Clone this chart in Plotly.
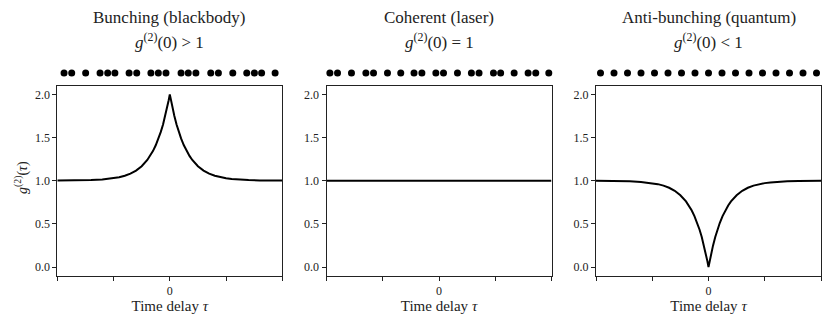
import plotly.graph_objects as go

# time delay axis and the three g2 curves
tau = [-5, -4.5, -4, -3.5, -3, -2.75, -2.5, -2.25, -2, -1.75, -1.5, -1.25, -1, -0.875, -0.75,
       -0.625, -0.5, -0.4, -0.3, -0.2, -0.1, -0.05, 0,
       0.05, 0.1, 0.2, 0.3, 0.4, 0.5, 0.625, 0.75, 0.875, 1, 1.25, 1.5, 1.75, 2, 2.25, 2.5,
       2.75, 3, 3.5, 4, 4.5, 5]
g2_bunching = [1.001, 1.002, 1.003, 1.007, 1.014, 1.020, 1.028, 1.040, 1.057, 1.082, 1.117,
               1.168, 1.240, 1.287, 1.343, 1.410, 1.490, 1.565, 1.651, 1.752, 1.867, 1.931, 2.0,
               1.931, 1.867, 1.752, 1.651, 1.565, 1.490, 1.410, 1.343, 1.287, 1.240, 1.168,
               1.117, 1.082, 1.057, 1.040, 1.028, 1.020, 1.014, 1.007, 1.003, 1.002, 1.001]
tau_flat = [-5, 5]
g2_coherent = [1.0, 1.0]
g2_antibunching = [0.999, 0.998, 0.997, 0.993, 0.986, 0.980, 0.972, 0.960, 0.943, 0.918, 0.883,
                   0.832, 0.760, 0.713, 0.657, 0.590, 0.510, 0.435, 0.349, 0.248, 0.133, 0.069,
                   0.0,
                   0.069, 0.133, 0.248, 0.349, 0.435, 0.510, 0.590, 0.657, 0.713, 0.760, 0.832,
                   0.883, 0.918, 0.943, 0.960, 0.972, 0.980, 0.986, 0.993, 0.997, 0.998, 0.999]

# photon arrival times shown above each panel
photons_bunching = [-4.70, -4.36, -3.74, -3.10, -2.76, -2.44, -1.81, -1.47, -0.84, -0.51, -0.17,
                    0.50, 0.82, 1.16, 1.82, 2.16, 2.80, 3.42, 3.76, 4.08, 4.68]
photons_coherent = [-4.85, -4.51, -3.89, -3.25, -2.91, -2.29, -1.70, -1.11, -0.76, -0.14, 0.20,
                    0.82, 1.44, 1.78, 2.42, 2.74, 3.34, 3.96, 4.30, 4.88]
photons_antibunching = [-4.8, -4.2, -3.6, -3.0, -2.4, -1.8, -1.2, -0.6, 0.0,
                        0.6, 1.2, 1.8, 2.4, 3.0, 3.6, 4.2, 4.8]

titles = ["Bunching (blackbody)", "Coherent (laser)", "Anti-bunching (quantum)"]
subtitles = ["<i>g</i><sup>(2)</sup>(0) &gt; 1", "<i>g</i><sup>(2)</sup>(0) = 1",
             "<i>g</i><sup>(2)</sup>(0) &lt; 1"]
x_minor_ticks = [-5, -2.5, 2.5, 5]
y_ticks = [0.0, 0.5, 1.0, 1.5, 2.0]

# the page body has an 8px margin, so the figure is placed 8px in from the window corner
OFF = 8
W, H = 831 - OFF, 325 - OFF
FONT = "Liberation Serif"
INK = "#222"


def px(x):
    return (x - OFF) / W


def py(y):
    return 1 - (y - OFF) / H


panels = [(57.3, 282.3), (326.5, 551.5), (596.0, 821.0)]
curves = [(tau, g2_bunching), (tau_flat, g2_coherent), (tau, g2_antibunching)]
photons = [photons_bunching, photons_coherent, photons_antibunching]

fig = go.Figure()
y_dom = [py(275.7), py(85.7)]
dot_dom = [py(78), py(68)]

for i, ((x0, x1), (cx, cy), dots) in enumerate(zip(panels, curves, photons)):
    n = i + 1
    xa = "x" if n == 1 else f"x{n}"
    ya = "y" if n == 1 else f"y{n}"
    yd = f"y{n + 3}"
    fig.add_trace(go.Scatter(x=cx, y=cy, mode="lines", xaxis=xa, yaxis=ya,
                             line=dict(color="black", width=2), showlegend=False))
    fig.add_trace(go.Scatter(x=dots, y=[0.5] * len(dots), mode="markers", xaxis=xa, yaxis=yd,
                             marker=dict(color="black", size=7), cliponaxis=False,
                             showlegend=False))
    axis_common = dict(showline=True, mirror=True, linecolor=INK, linewidth=1,
                       ticks="outside", ticklen=4, tickcolor=INK, showgrid=False,
                       zeroline=False, automargin=False,
                       tickfont=dict(family=FONT, size=12, color=INK))
    fig.layout[f"xaxis{'' if n == 1 else n}"] = dict(
        domain=[px(x0), px(x1)], anchor=ya, range=[-5, 5], tickvals=[0], ticktext=["0"],
        minor=dict(tickvals=x_minor_ticks, ticks="outside", ticklen=4, tickcolor=INK,
                   showgrid=False),
        title=dict(text="Time delay <i>τ</i>", font=dict(family=FONT, size=15, color=INK),
                   standoff=2),
        **axis_common)
    fig.layout[f"yaxis{'' if n == 1 else n}"] = dict(
        domain=y_dom, anchor=xa, range=[-0.1, 2.1], tickvals=y_ticks, tickformat=".1f",
        **axis_common)
    fig.layout[f"yaxis{n + 3}"] = dict(domain=dot_dom, anchor=xa, range=[0, 1], visible=False)

    xc = px((x0 + x1) / 2)
    fig.add_annotation(text=titles[i], x=xc, y=py(17), xref="paper", yref="paper",
                       xanchor="center", yanchor="middle", showarrow=False,
                       font=dict(family=FONT, size=17, color=INK))
    fig.add_annotation(text=subtitles[i], x=xc, y=py(41), xref="paper", yref="paper",
                       xanchor="center", yanchor="middle", showarrow=False,
                       font=dict(family=FONT, size=17, color=INK))

fig.add_annotation(text="<i>g</i><sup>(2)</sup>(<i>τ</i>)", x=px(21), y=py(178),
                   xref="paper", yref="paper", xanchor="center", yanchor="middle",
                   textangle=-90, showarrow=False, font=dict(family=FONT, size=14, color=INK))

fig.update_layout(width=W, height=H, margin=dict(l=0, r=0, t=0, b=0),
                  plot_bgcolor="white", paper_bgcolor="white")
fig.write_html("out.html")
